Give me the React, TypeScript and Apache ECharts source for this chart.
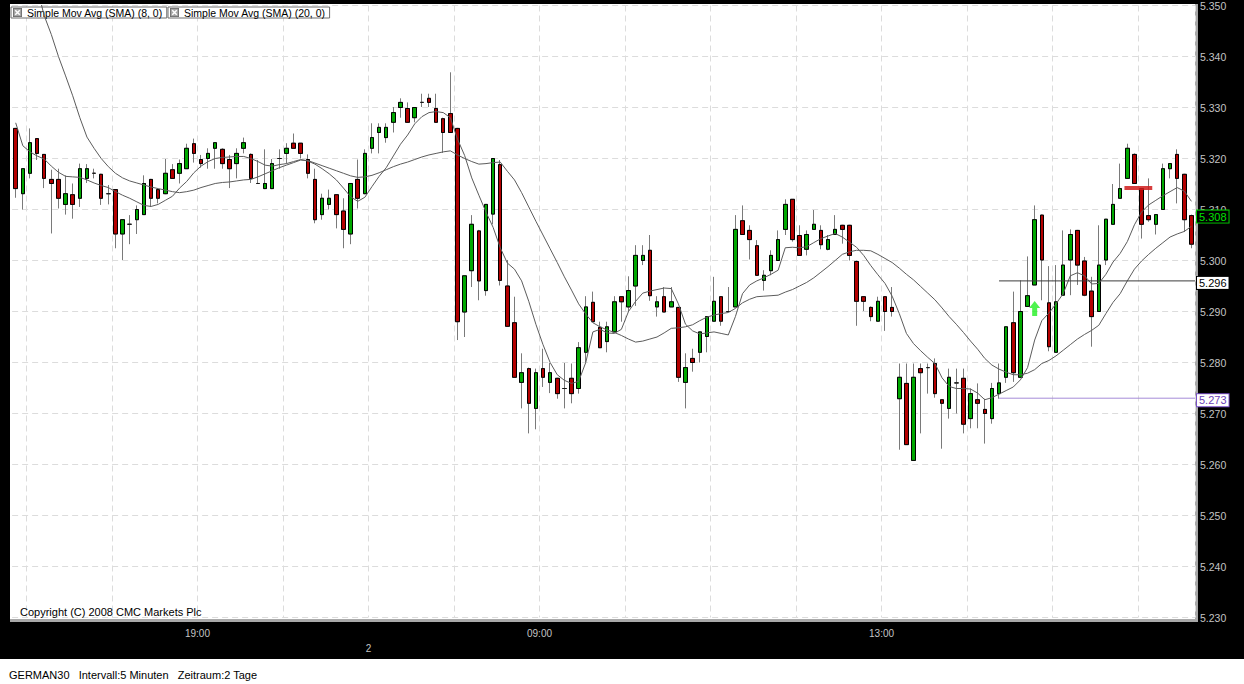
import React, { useEffect, useRef } from 'react';
import * as echarts from 'echarts';

// ---- OHLC values (price points), one per 5-minute candle ----
const opens = [
  5325.9, 5313.1, 5317.1, 5323.9, 5320.8, 5315.9, 5315.9, 5311, 5312.9, 5312.2,
  5316.1, 5317.1, 5316.9, 5313.1, 5313.9, 5305.2, 5307.1, 5308, 5309, 5315.9,
  5313.9, 5313.1, 5317.8, 5317.1, 5318, 5322.9, 5319.8, 5320, 5322, 5321.8,
  5319.8, 5319, 5322, 5320.8, 5315.1, 5314.1, 5314.1, 5320, 5321, 5323,
  5323, 5319.8, 5315.9, 5309, 5311, 5312.9, 5309.7, 5305.2, 5315.9, 5313.1,
  5322, 5325.1, 5324.1, 5327.1, 5330, 5329.8, 5328, 5331, 5331.8, 5329.8,
  5327.8, 5328.8, 5325.9, 5289.9, 5298, 5305.8, 5294.1, 5309.1, 5318.8, 5295,
  5287.8, 5276.1, 5278.8, 5271, 5278.8, 5276.1, 5276.9, 5274.9, 5276.9, 5274.9,
  5282, 5291.8, 5286.9, 5284.1, 5286, 5292.9, 5290.9, 5295, 5300, 5302,
  5290.9, 5292.9, 5290.9, 5290.8, 5276.1, 5280.8, 5282, 5285.1, 5288.1, 5292.9,
  5290, 5290.9, 5307.8, 5305.9, 5302.9, 5296.1, 5298, 5300, 5306.1, 5312,
  5304.9, 5302.2, 5306.1, 5305.9, 5302.2, 5305.1, 5306.9, 5306.9, 5299.8, 5292.9,
  5290.8, 5288.1, 5292.9, 5290.8, 5272.9, 5275.9, 5260.8, 5278.8, 5279, 5279.8,
  5272.7, 5271, 5276, 5276.9, 5269, 5272.7, 5270.8, 5269, 5273.9, 5277.1,
  5287.8, 5277.1, 5291, 5295.2, 5308.9, 5291.7, 5282, 5293.2, 5300.1, 5305.9,
  5299.9, 5294, 5290, 5300.1, 5307.1, 5312.2, 5316.1, 5320.8, 5314.1, 5308.8,
  5307.1, 5310, 5318, 5320.8, 5316.9, 5308.8,
];
const closes = [
  5314.1, 5318, 5323.1, 5321, 5316.1, 5315.1, 5312.2, 5313.1, 5311, 5318,
  5318, 5317.1, 5312.2, 5313.1, 5305.2, 5308, 5307.1, 5310, 5315.1, 5312.2,
  5312.2, 5317.1, 5316.1, 5319, 5322, 5321, 5319, 5321, 5323.1, 5319,
  5318, 5321, 5323.1, 5316.1, 5315.1, 5315.1, 5319, 5320, 5322, 5322,
  5321, 5317.1, 5308, 5312.2, 5312.2, 5309, 5306.1, 5315.1, 5312.2, 5321,
  5324.1, 5326.1, 5326.1, 5329, 5331, 5327.1, 5330, 5331, 5331, 5327.1,
  5325.1, 5325.1, 5288, 5297, 5307.1, 5296, 5311, 5320, 5296.1, 5287.1,
  5277.1, 5278, 5272, 5278, 5277.1, 5278, 5273.9, 5274.9, 5273.9, 5282.9,
  5290.9, 5288, 5282.9, 5287, 5291.9, 5291.9, 5294.1, 5301, 5301, 5293.1,
  5291.9, 5289.9, 5291.9, 5277.1, 5279, 5280, 5286, 5289, 5292, 5288.1,
  5290, 5306.1, 5305.1, 5304.1, 5297.1, 5297.1, 5301, 5304.1, 5311, 5304.1,
  5301, 5305.1, 5307.1, 5303.1, 5304.1, 5306.1, 5306.1, 5301, 5292, 5292,
  5289, 5292, 5290, 5290, 5277.1, 5263.9, 5277.1, 5278, 5279, 5273.9,
  5272, 5277.1, 5276, 5267.9, 5273.9, 5272, 5270, 5274.9, 5276, 5287,
  5278, 5290, 5293.1, 5308, 5300.1, 5283.1, 5291.9, 5299.1, 5305.1, 5299.1,
  5293.2, 5289, 5299.1, 5308.1, 5311, 5314.1, 5322, 5315.1, 5307.1, 5308,
  5309, 5318, 5319, 5316.1, 5308, 5303.2,
];
const lows = [
  5312.3, 5310, 5316.1, 5319.7, 5314.2, 5305.3, 5310.2, 5309, 5308.2, 5310.5,
  5315.2, 5316.1, 5310.9, 5311, 5302.4, 5300.1, 5303.2, 5305.2, 5309, 5310.5,
  5311.2, 5313, 5316, 5315.1, 5318, 5319.2, 5318.2, 5318, 5318, 5318,
  5314.2, 5316.1, 5321, 5315.2, 5315, 5314, 5314, 5318, 5319, 5322,
  5320, 5316.1, 5307.3, 5308, 5310, 5306.3, 5302.4, 5303.2, 5310.2, 5313,
  5321, 5321, 5323.1, 5325.1, 5328, 5327, 5327.1, 5330.1, 5330.1, 5327,
  5321.1, 5325, 5284.4, 5285, 5294.8, 5292.2, 5293.1, 5307.1, 5295.1, 5287,
  5277, 5271, 5266.1, 5266.9, 5275.2, 5274, 5272.9, 5271, 5272, 5273.9,
  5280, 5288, 5282.9, 5282, 5286, 5288, 5289.9, 5291.1, 5299.1, 5292.1,
  5289, 5289.9, 5290.9, 5276.2, 5271, 5278.2, 5280, 5282, 5288, 5287.2,
  5290, 5290.9, 5305, 5300.2, 5297, 5294.1, 5297.1, 5300, 5305, 5303.7,
  5301, 5301, 5306, 5302.2, 5302, 5305, 5303.3, 5300, 5287.2, 5290.1,
  5288.1, 5288, 5286.2, 5289, 5262.9, 5263.9, 5260.8, 5266.1, 5273.9, 5273.1,
  5263.1, 5269, 5270, 5266.1, 5267.1, 5267.1, 5264.1, 5268, 5272.9, 5276,
  5276.2, 5277.1, 5291, 5295.2, 5292.2, 5282.2, 5282, 5293.2, 5293.2, 5295.2,
  5293, 5283.1, 5290, 5299.1, 5307.1, 5312.2, 5316.1, 5315, 5304.3, 5307.6,
  5305.1, 5310, 5316.1, 5311.2, 5305.6, 5302.4,
];
const highs = [
  5326, 5318, 5325.9, 5324, 5320.8, 5317.8, 5318, 5316.7, 5315.1, 5319,
  5318.9, 5318, 5317, 5314.8, 5314, 5308, 5308.9, 5310.8, 5316.7, 5316,
  5314, 5319.9, 5318.9, 5319.8, 5322.9, 5323.9, 5320.7, 5322, 5323.1, 5322,
  5320.7, 5322, 5324.1, 5321, 5319.7, 5321.8, 5319.9, 5321.8, 5323, 5324.9,
  5323, 5320.8, 5318, 5313.1, 5313.9, 5313, 5312.2, 5315.1, 5319.8, 5321.8,
  5326.9, 5326.9, 5326.9, 5330.1, 5331.8, 5331, 5330, 5332.7, 5332.7, 5332.7,
  5328, 5336.9, 5326, 5297, 5308.9, 5306, 5311, 5320, 5319.7, 5300.1,
  5292.9, 5281.8, 5279, 5278.8, 5282.7, 5279.9, 5277, 5279.9, 5279.8, 5284,
  5293, 5293.9, 5288, 5288, 5293, 5293, 5296.9, 5303, 5303, 5305,
  5293, 5294.8, 5294.8, 5290.8, 5281.8, 5282.7, 5286, 5289, 5296.8, 5293,
  5294.8, 5308.9, 5310.8, 5306.9, 5304, 5298.1, 5302, 5305.9, 5312, 5312,
  5306.9, 5305.9, 5309.9, 5306.9, 5305, 5308.9, 5307, 5307, 5300, 5293,
  5291, 5292.9, 5293, 5294.8, 5279.8, 5279.8, 5279.8, 5279.8, 5279.8, 5280.8,
  5272.7, 5278.8, 5278.8, 5278.8, 5274.9, 5275.9, 5272.9, 5276, 5279.8, 5287,
  5293.9, 5296.1, 5300.8, 5310.8, 5309, 5298.9, 5299.1, 5305.9, 5306.1, 5306,
  5300.7, 5296.8, 5306.9, 5308.1, 5315, 5319, 5322.9, 5321, 5314.2, 5316.1,
  5309, 5319, 5319, 5321.8, 5317, 5309,
];

// ---- Moving averages ----
const sma8 = [
  5327, 5322.5, 5321.3, 5320.5, 5319.9, 5318.5, 5317.3, 5316.5, 5316.4, 5316.3,
  5315.8, 5315.2, 5314.7, 5314.3, 5313.5, 5312.8, 5312.2, 5311.5, 5310.8, 5310.6,
  5311, 5311.8, 5312.6, 5314.2, 5315.5, 5317.2, 5318.5, 5319.4, 5320, 5320.2,
  5320.3, 5320.4, 5320.4, 5320, 5319.4, 5318.7, 5318.5, 5318.8, 5319, 5319.4,
  5319.8, 5319.5, 5318.9, 5318, 5317, 5315.8, 5314.2, 5312.5, 5311.6, 5312.4,
  5314.5, 5316.5, 5318.2, 5320.5, 5322.8, 5324.6, 5326.8, 5328.2, 5329, 5329.2,
  5329, 5328, 5323.8, 5320.6, 5316.2, 5312.8, 5309.5, 5306.5, 5302.5, 5299.5,
  5298.3, 5296, 5292, 5287.5, 5283.5, 5280, 5277.6, 5276.5, 5275.9, 5276.3,
  5280, 5286, 5286.5, 5285.8, 5285.7, 5286.5, 5290, 5292, 5293.6, 5294,
  5294.3, 5294.6, 5294.5, 5291.5, 5287.5, 5286.2, 5285.6, 5285.8, 5286, 5285.7,
  5285.4, 5289, 5293.5, 5295.2, 5296, 5296.6, 5297.3, 5298.1, 5302.5, 5302.6,
  5302.5, 5302.7, 5303.5, 5304.3, 5304.8, 5305.3, 5304.6, 5303.6, 5302.6, 5301,
  5299, 5297.2, 5295.5, 5293, 5289.6, 5285.7, 5283.7, 5282.3, 5281, 5279.8,
  5277, 5275.3, 5274.9, 5274.9, 5274.8, 5274, 5272.7, 5273.1, 5273.8, 5274.5,
  5275.2, 5276.6, 5279, 5284.4, 5288.2, 5289.7, 5291.5, 5293.5, 5297, 5297.6,
  5297, 5295.4, 5295.5, 5297.3, 5299.7, 5301.4, 5303.7, 5307, 5309.5, 5310.9,
  5311.8, 5312.7, 5313.5, 5314.3, 5313.6, 5311.6,
];
const sma20 = [
  5372, 5365, 5359, 5353.5, 5348, 5344.3, 5340, 5336.2, 5332.3, 5328,
  5324.2, 5322, 5320, 5318.4, 5317.1, 5316.2, 5315.6, 5315.2, 5314.8, 5314.4,
  5314.1, 5313.8, 5313.5, 5313.3, 5313.5, 5313.8, 5314.3, 5314.7, 5315.1, 5315.3,
  5315.4, 5315.6, 5315.8, 5315.9, 5316.4, 5317, 5317.6, 5318.2, 5318.7, 5319.2,
  5319.7, 5319.6, 5319.1, 5318.6, 5318.1, 5317.6, 5317.1, 5316.6, 5316.3, 5316.4,
  5316.7, 5317.2, 5317.8, 5318.4, 5318.9, 5319.3, 5319.8, 5320.3, 5320.7, 5321,
  5321.3, 5321.5, 5320.7, 5320, 5319.4, 5318.9, 5319, 5319.2, 5319.3, 5317.5,
  5315.8, 5313.3, 5310.5, 5307.7, 5305, 5302.3, 5299.6, 5296.8, 5294.2, 5291.5,
  5289.5, 5287.8, 5287, 5286.4, 5285.9, 5285.3, 5284.6, 5284, 5284.2, 5284.6,
  5285, 5285.8, 5286.7, 5286.8, 5287, 5287.4, 5288.2, 5288.9, 5289.3, 5289.6,
  5289.8, 5290.6, 5291.7, 5292.4, 5292.9, 5293, 5293.1, 5293.2, 5293.8, 5294.3,
  5295, 5295.7, 5296.6, 5297.7, 5298.8, 5300, 5301.2, 5301.7, 5302, 5302,
  5301.9, 5301.2, 5300.4, 5299.6, 5298.5, 5297.3, 5296.2, 5294.9, 5293.6, 5292.3,
  5290.7, 5289, 5287.5, 5285.9, 5284.2, 5282.6, 5280.8, 5279.5, 5278.7, 5278.1,
  5277.6, 5277.6, 5277.9, 5278.6, 5279.8, 5280.4, 5281.3, 5282.4, 5283.5, 5284.6,
  5285.5, 5286.3, 5287.3, 5289.6, 5291.8, 5293.5, 5296, 5298.3, 5299.9, 5301.2,
  5302.4, 5303.5, 5304.6, 5305.2, 5305.7, 5306.7,
];

// ---- Time axis ----
const sessionStarts = ['16:50', '07:00'];
const sessionLengths = [50, 116];
const xTickIndex = [26, 50, 74, 122];
const xTickLabels = ['19:00', '2', '09:00', '13:00'];
const xTickRow = [0, 1, 0, 0];

// ---- Price axis ----
const yMin = 5230;
const yMax = 5350;
const yStep = 10;

// ---- Price markers on the right ----
const markerValues = [5309, 5296, 5273];
const markerLabels = ['5.308', '5.296', '5.273'];
const markerStart = [165, 138, 138];
const buyArrow = [143, 5290.6];
const sellBar = [155.6, 159.5, 5314.2];

const seriesNames = ['Simple Mov Avg (SMA) (8, 0)', 'Simple Mov Avg (SMA) (20, 0)'];
const copyrightText = 'Copyright (C) 2008 CMC Markets Plc';
const statusText = 'GERMAN30   Intervall:5 Minuten   Zeitraum:2 Tage';

const FONT = '"Liberation Sans", Arial, sans-serif';
const UP = '#00a800';
const DOWN = '#b40000';
const markerStyles = [
  { line: 'rgba(0,0,0,0)', text: '#00e000', bg: '#000000', border: '#00d000' },
  { line: '#3c3c3c', text: '#000000', bg: '#ffffff', border: '#000000' },
  { line: '#a68bd8', text: '#6b3fb8', bg: '#ffffff', border: '#7a52c7' },
];

const ICON_SVG =
  '<svg xmlns="http://www.w3.org/2000/svg" width="10" height="10">' +
  '<rect x="0.5" y="0.5" width="9" height="9" fill="#a4a4a4" stroke="#6c6c6c"/>' +
  '<path d="M2.5 2.5L7.5 7.5M7.5 2.5L2.5 7.5" stroke="#ffffff" stroke-width="1.6"/></svg>';
const ICON = 'image://data:image/svg+xml;charset=utf-8,' + encodeURIComponent(ICON_SVG);
const ARROW = 'path://M5.5,0 L11,7 L8,7 L8,15 L3,15 L3,7 L0,7 Z';

function toMinutes(s: string) {
  const [h, m] = s.split(':').map(Number);
  return h * 60 + m;
}
function fmtTime(m: number) {
  const h = Math.floor(m / 60) % 24;
  const mm = m % 60;
  return String(h).padStart(2, '0') + ':' + String(mm).padStart(2, '0');
}

export default function App() {
  const ref = useRef<HTMLDivElement>(null);

  useEffect(() => {
    const el = ref.current;
    if (!el) return;
    const chart = echarts.init(el, undefined, { renderer: 'svg' });

    const categories: string[] = [];
    sessionStarts.forEach((s, k) => {
      const base = toMinutes(s);
      for (let j = 0; j < sessionLengths[k]; j++) categories.push(fmtTime(base + 5 * j));
    });

    const wickData = opens.map((o, i) => [o, closes[i], lows[i], highs[i]]);
    const bodyData = opens.map((o, i) => [o, closes[i], Math.min(o, closes[i]), Math.max(o, closes[i])]);
    const lastEdge = opens.length - 0.5;

    const legendCommon = {
      orient: 'horizontal',
      top: 7,
      selectedMode: false,
      backgroundColor: '#ffffff',
      borderColor: '#6e6e6e',
      borderWidth: 1,
      borderRadius: 0,
      padding: [0, 4, 0, 2],
      itemWidth: 9,
      itemHeight: 9,
      icon: ICON,
      textStyle: { fontSize: 10.5, color: '#000', fontFamily: FONT, lineHeight: 11 },
    };

    const markerSeries = markerValues.map((v, k) => ({
      type: 'line',
      xAxisIndex: 1,
      yAxisIndex: 0,
      data: [
        [markerStart[k], v],
        [lastEdge, v],
      ],
      symbol: 'none',
      silent: true,
      z: 6,
      lineStyle: { color: markerStyles[k].line, width: 1 },
      endLabel: {
        show: true,
        formatter: () => markerLabels[k],
        distance: 2,
        offset: [0, 2],
        color: markerStyles[k].text,
        backgroundColor: markerStyles[k].bg,
        borderColor: markerStyles[k].border,
        borderWidth: 1,
        padding: [1, 2, 0, 2],
        fontSize: 11,
        fontFamily: FONT,
      },
    }));

    const option: any = {
      animation: false,
      backgroundColor: '#000000',
      grid: {
        left: 12.14,
        right: 49,
        top: 5.5,
        bottom: 66.5,
        containLabel: false,
        outerBoundsMode: 'none',
      },
      legend: [
        { ...legendCommon, left: 11, data: [seriesNames[0]] },
        { ...legendCommon, left: 168, data: [seriesNames[1]] },
      ],
      xAxis: [
        {
          type: 'category',
          data: categories,
          boundaryGap: true,
          axisLine: { show: false },
          axisTick: { show: false },
          axisLabel: {
            show: true,
            interval: (i: number) => xTickIndex.includes(i),
            formatter: (_v: string, i: number) => {
              const k = xTickIndex.indexOf(i);
              return k < 0 ? '' : '\n'.repeat(xTickRow[k]) + xTickLabels[k];
            },
            color: '#c4c4c4',
            fontSize: 10,
            fontFamily: FONT,
            margin: 8,
            lineHeight: 15,
            padding: [0, 7, 0, 0],
          },
          splitLine: {
            show: true,
            interval: (i: number) => i >= 2 && (i - 2) % 12 === 0,
            lineStyle: { color: '#dcdcdc', width: 1, type: [6, 4] },
          },
        },
        {
          type: 'value',
          min: -0.5,
          max: lastEdge,
          show: false,
          gridIndex: 0,
        },
      ],
      yAxis: {
        type: 'value',
        position: 'right',
        min: yMin,
        max: yMax,
        interval: yStep,
        axisLine: { show: false },
        axisTick: { show: false },
        axisLabel: {
          color: '#c4c4c4',
          fontSize: 10.5,
          fontFamily: FONT,
          margin: 5,
          formatter: (v: number) => (v / 1000).toFixed(3),
        },
        splitLine: { show: true, lineStyle: { color: '#dcdcdc', width: 1, type: [6, 4] } },
      },
      graphic: [
        { type: 'rect', silent: true, z: -10, shape: { x: 10, y: 4, width: 1185, height: 615 }, style: { fill: '#ffffff' } },
        { type: 'rect', silent: true, z: -10, shape: { x: 1195, y: 4, width: 3, height: 618 }, style: { fill: '#a8a8a8' } },
        { type: 'rect', silent: true, z: -10, shape: { x: 10, y: 619, width: 1188, height: 3 }, style: { fill: '#a8a8a8' } },
        { type: 'rect', silent: true, z: -10, shape: { x: 0, y: 659, width: 1244, height: 25 }, style: { fill: '#ffffff' } },
        {
          type: 'text', silent: true, z: 10, x: 20, y: 612,
          style: { text: copyrightText, fill: '#000', fontSize: 11, fontFamily: FONT, verticalAlign: 'middle' },
        },
        {
          type: 'text', silent: true, z: 10, x: 9, y: 675,
          style: { text: statusText, fill: '#000', fontSize: 11, fontFamily: FONT, verticalAlign: 'middle' },
        },
      ],
      series: [
        {
          name: 'wicks',
          type: 'candlestick',
          data: wickData,
          barWidth: 4,
          silent: true,
          z: 2,
          itemStyle: {
            color: UP,
            color0: DOWN,
            borderColor: '#7a7a7a',
            borderColor0: '#7a7a7a',
            borderColorDoji: '#7a7a7a',
            borderWidth: 1,
          },
        },
        {
          name: 'bodies',
          type: 'candlestick',
          data: bodyData,
          barWidth: 4,
          silent: true,
          z: 3,
          itemStyle: {
            color: UP,
            color0: DOWN,
            borderColor: '#000',
            borderColor0: '#000',
            borderColorDoji: '#1a1a1a',
            borderWidth: 1,
          },
        },
        {
          name: seriesNames[0],
          type: 'line',
          data: sma8,
          showSymbol: false,
          symbol: 'none',
          silent: true,
          z: 4,
          lineStyle: { color: '#5c5c5c', width: 1 },
          itemStyle: { color: '#5c5c5c' },
        },
        {
          name: seriesNames[1],
          type: 'line',
          data: sma20,
          showSymbol: false,
          symbol: 'none',
          silent: true,
          z: 4,
          lineStyle: { color: '#5c5c5c', width: 1 },
          itemStyle: { color: '#5c5c5c' },
        },
        ...markerSeries,
        {
          name: 'sell',
          type: 'line',
          xAxisIndex: 1,
          data: [
            [sellBar[0], sellBar[2]],
            [sellBar[1], sellBar[2]],
          ],
          symbol: 'none',
          silent: true,
          z: 7,
          lineStyle: { color: '#d01c1c', width: 4, opacity: 0.85 },
        },
        {
          name: 'buy',
          type: 'scatter',
          xAxisIndex: 1,
          data: [buyArrow],
          symbol: ARROW,
          symbolSize: [11, 15],
          silent: true,
          z: 7,
          itemStyle: { color: '#22f022' },
        },
      ],
    };

    chart.setOption(option);
    return () => chart.dispose();
  }, []);

  return <div ref={ref} style={{ position: 'fixed', left: 0, top: 0, width: 1244, height: 684 }} />;
}
